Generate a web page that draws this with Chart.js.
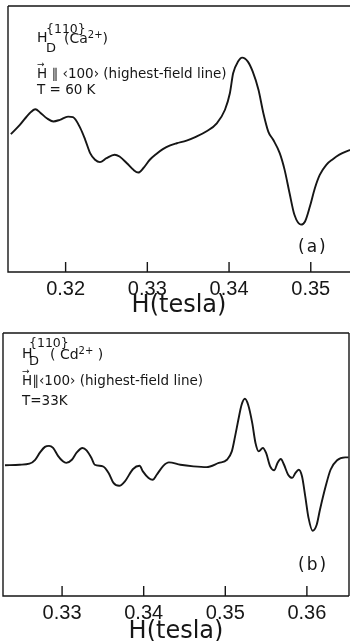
<!DOCTYPE html>
<html>
<head>
<meta charset="utf-8">
<script src="https://cdn.jsdelivr.net/npm/chart.js@4.4.1/dist/chart.umd.min.js"></script>
<style>
  html, body { margin: 0; padding: 0; background: #fff; }
  body { width: 350px; height: 641px; position: relative; overflow: hidden; font-family: "DejaVu Sans", sans-serif; color: #161616; }
  .panel { position: absolute; left: 0; width: 350px; }
  .lbl { position: absolute; white-space: nowrap; line-height: 1; font-size: 13.5px; }
  .up { font-size: 10px; position: relative; top: -5px; }
</style>
</head>
<body>
<div class="panel" style="top:0;height:320px"><canvas id="chartA" width="350" height="320"></canvas></div>
<div class="panel" style="top:320px;height:324px"><canvas id="chartB" width="350" height="324"></canvas></div>

<!-- panel (a) annotations -->
<span class="lbl" style="left:37px;top:30.4px;font-size:14px">H</span>
<span class="lbl" style="left:46px;top:22.5px;font-size:12.5px">{110}</span>
<span class="lbl" style="left:46px;top:40.6px;font-size:13px">D</span>
<span class="lbl" style="left:64px;top:31.4px;font-size:14px">(Ca<span class="up">2+</span>)</span>
<span class="lbl" style="left:37px;top:60px;font-size:9px">&#8594;</span>
<span class="lbl" style="left:37px;top:67.4px">H &#8741; &#8249;100&#8250; (highest-field line)</span>
<span class="lbl" style="left:37px;top:83.4px">T = 60 K</span>
<span class="lbl" style="left:298px;top:238px;font-size:17px;letter-spacing:2px">(a)</span>

<!-- panel (b) annotations -->
<span class="lbl" style="left:22px;top:346.4px;font-size:14px">H</span>
<span class="lbl" style="left:29px;top:337px;font-size:12.5px">{110}</span>
<span class="lbl" style="left:29px;top:353.6px;font-size:13px">D</span>
<span class="lbl" style="left:50px;top:347.4px;font-size:14px">( Cd<span class="up">2+</span> )</span>
<span class="lbl" style="left:22px;top:367px;font-size:9px">&#8594;</span>
<span class="lbl" style="left:22px;top:374.4px">H&#8741;&#8249;100&#8250; (highest-field line)</span>
<span class="lbl" style="left:22px;top:394.4px">T=33K</span>
<span class="lbl" style="left:298px;top:556px;font-size:17px;letter-spacing:2px">(b)</span>

<script>
// panel (a): Ca2+, T = 60 K
const fieldA = [0.3133, 0.3144, 0.3156, 0.3163, 0.3169, 0.3177, 0.3185, 0.3193, 0.3203, 0.3209,
    0.3218, 0.3224, 0.3230, 0.3236, 0.3242, 0.3250, 0.3260, 0.3266, 0.3275, 0.3283,
    0.3289, 0.3295, 0.3303, 0.3311, 0.3319, 0.3328, 0.3336, 0.3348, 0.3360, 0.3372,
    0.3385, 0.3395, 0.3401, 0.3405, 0.3411, 0.3416, 0.3423, 0.3429, 0.3436, 0.3442,
    0.3448, 0.3454, 0.3462, 0.3468, 0.3474, 0.3480, 0.3488, 0.3493, 0.3499, 0.3505,
    0.3511, 0.3519, 0.3527, 0.3535, 0.3548];
const signalA = [51.8, 55.3, 59.7, 61.2, 59.9, 57.8, 56.6, 57.2, 58.4, 58.2,
    54.1, 49.7, 44.7, 42.2, 41.3, 42.8, 44.1, 43.4, 40.9, 38.4,
    37.4, 39.0, 42.2, 44.4, 46.2, 47.6, 48.4, 49.4, 50.9, 52.8,
    55.9, 61.0, 67.2, 74.7, 79.1, 80.6, 79.1, 75.3, 68.5, 59.7,
    52.8, 49.7, 44.7, 38.4, 29.7, 21.5, 17.8, 19.0, 24.7, 31.5,
    36.5, 40.3, 42.4, 44.1, 45.9];
const ticksA = [0.32, 0.33, 0.34, 0.35];

// panel (b): Cd2+, T = 33 K
const fieldB = [0.3230, 0.3248, 0.3260, 0.3267, 0.3273, 0.3279, 0.3284, 0.3289, 0.3295, 0.3301,
    0.3305, 0.3312, 0.3318, 0.3325, 0.3330, 0.3336, 0.3340, 0.3350, 0.3357, 0.3363,
    0.3370, 0.3377, 0.3387, 0.3395, 0.3399, 0.3406, 0.3411, 0.3416, 0.3424, 0.3431,
    0.3445, 0.3461, 0.3477, 0.3492, 0.3502, 0.3508, 0.3512, 0.3516, 0.3520, 0.3524,
    0.3528, 0.3533, 0.3537, 0.3541, 0.3546, 0.3550, 0.3555, 0.3560, 0.3564, 0.3568,
    0.3572, 0.3577, 0.3582, 0.3586, 0.3590, 0.3594, 0.3598, 0.3602, 0.3607, 0.3612,
    0.3616, 0.3623, 0.3629, 0.3637, 0.3647, 0.3651];
const signalB = [49.7, 49.9, 50.3, 51.8, 54.6, 56.7, 57.1, 56.3, 53.3, 51.2,
    50.6, 51.8, 54.6, 56.3, 55.4, 52.5, 49.9, 49.3, 46.8, 43.0,
    41.9, 43.6, 48.3, 49.5, 47.4, 44.9, 44.2, 46.1, 49.5, 50.8,
    49.9, 49.3, 49.0, 50.6, 51.8, 55.0, 60.7, 67.0, 72.7, 75.0,
    72.7, 65.8, 58.2, 55.0, 56.3, 54.4, 49.3, 47.8, 50.6, 52.1,
    49.9, 46.1, 44.9, 46.8, 48.0, 45.5, 37.9, 29.7, 24.8, 27.1,
    32.8, 41.7, 48.0, 51.6, 52.7, 52.7];
const ticksB = [0.33, 0.34, 0.35, 0.36];

const ink = '#161616';

// box around the plot and short ticks pointing inwards
const framePlugin = {
    id: 'frame',
    afterDatasetsDraw(chart, args, opts) {
        const { ctx, chartArea: a } = chart;
        const x = chart.scales.x;
        ctx.save();
        ctx.strokeStyle = ink;
        ctx.lineWidth = 1.4;
        ctx.beginPath();
        ctx.moveTo(a.left, a.top);
        ctx.lineTo(a.right, a.top);
        ctx.moveTo(a.left, a.top);
        ctx.lineTo(a.left, a.bottom);
        ctx.lineTo(a.right, a.bottom);
        if (opts.right) {
            ctx.moveTo(a.right, a.top);
            ctx.lineTo(a.right, a.bottom);
        }
        x.ticks.forEach(t => {
            const px = x.getPixelForValue(t.value);
            ctx.moveTo(px, a.bottom);
            ctx.lineTo(px, a.bottom - 10);
        });
        ctx.stroke();
        ctx.restore();
    }
};

function makeChart(id, field, signal, tickVals, xmin, xmax, pad, titlePad, rightSide) {
    const ctx = document.getElementById(id).getContext('2d');
    return new Chart(ctx, {
        type: 'line',
        data: {
            datasets: [{
                data: field.map((f, i) => ({ x: f, y: signal[i] })),
                borderColor: ink,
                borderWidth: 1.9,
                pointRadius: 0,
                fill: false,
                cubicInterpolationMode: 'monotone'
            }]
        },
        options: {
            responsive: false,
            animation: false,
            devicePixelRatio: 1,
            layout: { padding: pad },
            plugins: {
                legend: { display: false },
                tooltip: { enabled: false },
                frame: { right: rightSide }
            },
            scales: {
                x: {
                    type: 'linear',
                    min: xmin,
                    max: xmax,
                    afterBuildTicks: s => { s.ticks = tickVals.map(v => ({ value: v })); },
                    afterFit: s => { s.height = 48; },
                    grid: { display: false, drawTicks: false },
                    border: { display: false },
                    ticks: {
                        color: ink,
                        padding: 5,
                        maxRotation: 0,
                        font: { family: 'Liberation Sans', size: 20 },
                        callback: v => v.toFixed(2)
                    },
                    title: {
                        display: true,
                        text: 'H(tesla)',
                        color: ink,
                        padding: { top: 0, bottom: titlePad },
                        font: { family: 'DejaVu Sans', size: 24, lineHeight: 1 }
                    }
                },
                y: { display: false, min: 0, max: 100 }
            }
        },
        plugins: [framePlugin]
    });
}

makeChart('chartA', fieldA, signalA, ticksA, 0.31295, 0.3548,
    { top: 6, left: 8, right: 0, bottom: 0 }, 2, false);
makeChart('chartB', fieldB, signalB, ticksB, 0.32276, 0.36516,
    { top: 13, left: 3, right: 1, bottom: 0 }, 0, true);
</script>
</body>
</html>
